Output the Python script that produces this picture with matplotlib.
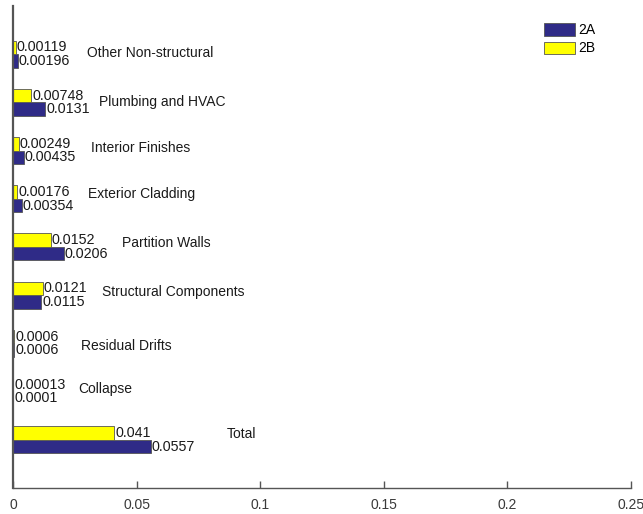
import matplotlib
matplotlib.use("Agg")
import matplotlib.pyplot as plt
from matplotlib.patches import Patch

plt.rcParams['font.family'] = ['Liberation Sans', 'DejaVu Sans']

# Loss components, listed bottom to top
categories = ["Total", "Collapse", "Residual Drifts", "Structural Components",
              "Partition Walls", "Exterior Cladding", "Interior Finishes",
              "Plumbing and HVAC", "Other Non-structural"]
values_2a = [0.0557, 0.0001, 0.0006, 0.0115, 0.0206, 0.00354, 0.00435, 0.0131, 0.00196]
values_2b = [0.041, 0.00013, 0.0006, 0.0121, 0.0152, 0.00176, 0.00249, 0.00748, 0.00119]
label_2a = ["0.0557", "0.0001", "0.0006", "0.0115", "0.0206", "0.00354", "0.00435", "0.0131", "0.00196"]
label_2b = ["0.041", "0.00013", "0.0006", "0.0121", "0.0152", "0.00176", "0.00249", "0.00748", "0.00119"]
series_names = ["2A", "2B"]
x_ticks = [0, 0.05, 0.1, 0.15, 0.2, 0.25]
x_tick_labels = ["0", "0.05", "0.1", "0.15", "0.2", "0.25"]

# Placement of the category captions (data coordinates)
caption_x = [0.0863, 0.0263, 0.0276, 0.0361, 0.0442, 0.0304, 0.0316, 0.0348, 0.0300]
caption_dy = [0.12, 0.05, -0.05, 0.07, 0.09, 0.10, 0.05, 0.015, 0.03]

navy = "#2f2b87"
yellow = "#ffff00"
edge = "#555555"
fs = 10.0

fig = plt.figure(figsize=(6.43, 5.14), dpi=100)
ax = fig.add_axes([0.0202, 0.0506, 0.9608, 0.9378])

bar_h = 0.28
pos = list(range(1, len(categories) + 1))
ya = [p - bar_h / 2 for p in pos]
yb = [p + bar_h / 2 for p in pos]
ax.barh(ya, values_2a, height=bar_h, color=navy, edgecolor=edge, linewidth=0.6)
ax.barh(yb, values_2b, height=bar_h, color=yellow, edgecolor=edge, linewidth=0.6)

for y, v, t in zip(ya, values_2a, label_2a):
    ax.annotate(t, (v, y), xytext=(0.6, 0), textcoords="offset points",
                ha="left", va="center", fontsize=fs + 0.3, color="#1a1a1a")
for y, v, t in zip(yb, values_2b, label_2b):
    ax.annotate(t, (v, y), xytext=(0.6, 0), textcoords="offset points",
                ha="left", va="center", fontsize=fs + 0.3, color="#1a1a1a")
for p, name, cx, dy in zip(pos, categories, caption_x, caption_dy):
    ax.text(cx, p + dy, name, ha="left", va="center", fontsize=fs, color="#1a1a1a")

ax.set_xlim(0, 0.25)
ax.set_ylim(0, 10)
ax.set_xticks(x_ticks)
ax.set_xticklabels(x_tick_labels)
ax.set_yticks([])
for s in ("top", "right"):
    ax.spines[s].set_visible(False)
ax.spines["left"].set_color("#555555")
ax.spines["left"].set_linewidth(1.6)
ax.spines["bottom"].set_color("#555555")
ax.spines["bottom"].set_linewidth(1.0)
ax.tick_params(axis="x", direction="in", length=5, width=1.0, color="#555555",
               labelsize=fs, labelcolor="#3a3a3a", pad=7)

handles = [Patch(facecolor=navy, edgecolor=edge, linewidth=0.6),
           Patch(facecolor=yellow, edgecolor=edge, linewidth=0.6)]
ax.legend(handles, series_names, loc="upper left", bbox_to_anchor=(0.8596, 0.964),
          frameon=False, fontsize=fs, handlelength=2.25, handleheight=1.0,
          handletextpad=0.2, labelspacing=0.3, borderpad=0, borderaxespad=0)

fig.savefig("out.png", dpi=100, facecolor="white")
